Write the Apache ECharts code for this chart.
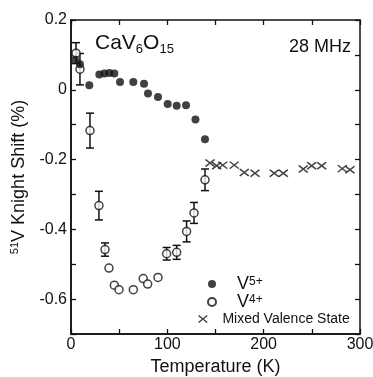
<!DOCTYPE html>
<html>
<head>
<meta charset="utf-8">
<script src="https://cdn.jsdelivr.net/npm/echarts@6/dist/echarts.min.js"></script>
<style>
  html, body { margin: 0; padding: 0; background: #fff; }
  #chart { width: 373px; height: 377px; }
</style>
</head>
<body>
<div id="chart"></div>
<script>
// 51V Knight shift of CaV6O15 at 28 MHz versus temperature

// V5+ site (filled circles)
const tempV5  = [4.2, 9.3, 19.0, 29.4, 34.6, 39.8, 45.0, 50.9, 64.7, 75.8, 79.9, 90.3, 100.4, 109.7, 119.4, 129.2, 139.1];
const shiftV5 = [0.086, 0.073, 0.013, 0.044, 0.047, 0.048, 0.047, 0.022, 0.022, 0.017, -0.011, -0.021, -0.041, -0.046, -0.044, -0.085, -0.142];

// V4+ site (open circles) with error half-widths (0 = no bar)
const tempV4  = [5.2, 9.3, 19.7, 29.0, 35.3, 39.4, 45.0, 49.8, 64.7, 75.0, 79.6, 90.3, 99.3, 109.7, 120.0, 127.7, 139.1];
const shiftV4 = [0.105, 0.059, -0.117, -0.332, -0.458, -0.511, -0.560, -0.573, -0.573, -0.541, -0.557, -0.538, -0.470, -0.466, -0.406, -0.353, -0.258];
const errV4   = [0.030, 0.045, 0.050, 0.041, 0.019, 0, 0, 0, 0, 0, 0, 0, 0.018, 0.020, 0.030, 0.030, 0.031];

// Mixed valence state (crosses)
const tempMix  = [144.3, 151.2, 157.5, 169.5, 179.9, 191.0, 211.0, 220.4, 241.1, 249.8, 260.2, 281.6, 289.6];
const shiftMix = [-0.210, -0.218, -0.216, -0.216, -0.237, -0.239, -0.239, -0.239, -0.227, -0.218, -0.218, -0.226, -0.229];

// Axis labels
const xTickLabels = [0, 100, 200, 300];
const yTickLabels = [0.2, 0, -0.2, -0.4, -0.6];

const FONT = '"Liberation Sans", Arial, Helvetica, sans-serif';
const INK = '#111';
const CROSS = 'path://M0,0L10,8M10,0L0,8';

const zip = (a, b, c) => a.map((v, i) => c ? [v, b[i], c[i]] : [v, b[i]]);

const axisLine = () => ({ show: true, onZero: false, lineStyle: { color: INK, width: 1.5 } });
const axisTick = () => ({ show: true, inside: true, length: 5, lineStyle: { color: INK, width: 1.3 } });

// Unlabelled frame axis carrying only inward ticks
const frameX = pos => ({
  type: 'value', min: 0, max: 300, interval: 50, position: pos,
  axisLine: axisLine(), axisTick: axisTick(),
  splitLine: { show: false }, axisLabel: { show: false }
});
const frameY = pos => ({
  type: 'value', min: -0.7, max: 0.2, interval: 0.1, position: pos,
  axisLine: axisLine(), axisTick: axisTick(),
  splitLine: { show: false }, axisLabel: { show: false }
});

const chart = echarts.init(document.getElementById('chart'), null, { renderer: 'canvas' });

chart.setOption({
  animation: false,
  backgroundColor: '#fff',
  textStyle: { fontFamily: FONT, color: INK },
  grid: { left: 71, right: 13, top: 20, bottom: 43, containLabel: false, outerBoundsMode: 'none' },
  title: [
    {
      text: '{m|CaV}{s|6}{m|O}{s|15}',
      left: 95, top: 30, padding: 0,
      textStyle: {
        fontWeight: 'normal',
        rich: {
          m: { fontFamily: FONT, fontSize: 21, fontWeight: 'normal', lineHeight: 26, color: INK },
          s: { fontFamily: FONT, fontSize: 13, fontWeight: 'normal', lineHeight: 13, verticalAlign: 'bottom', color: INK }
        }
      }
    },
    {
      text: '28 MHz',
      right: 22, top: 38, padding: 0,
      textStyle: { fontFamily: FONT, fontSize: 18, fontWeight: 'normal', color: INK }
    }
  ],
  legend: [
    {
      data: ['V5+', 'V4+'],
      orient: 'vertical',
      left: 207, top: 275,
      itemWidth: 8, itemHeight: 8, itemGap: 0,
      padding: 0,
      selectedMode: false,
      formatter: n => '{v|V}{p|' + n.slice(1) + '}',
      textStyle: {
        rich: {
          v: { fontFamily: FONT, fontSize: 18, lineHeight: 17, color: INK, padding: [0, 0, 0, 16] },
          p: { fontFamily: FONT, fontSize: 12, lineHeight: 12, verticalAlign: 'top', color: INK }
        }
      }
    },
    {
      data: [{ name: 'Mixed Valence State', icon: CROSS,
               itemStyle: { color: 'none', borderColor: INK, borderWidth: 1.5 } }],
      left: 196, top: 312,
      itemWidth: 9, itemHeight: 7,
      padding: 0,
      selectedMode: false,
      textStyle: { fontFamily: FONT, fontSize: 14, color: INK, padding: [0, 0, 0, 10] }
    }
  ],
  xAxis: [
    {
      type: 'value', min: 0, max: 300, interval: 50,
      position: 'bottom',
      name: 'Temperature (K)', nameLocation: 'middle', nameGap: 22,
      nameTextStyle: { fontFamily: FONT, fontSize: 18, color: INK },
      axisLine: axisLine(), axisTick: { show: false },
      splitLine: { show: false },
      axisLabel: {
        margin: 3, fontFamily: FONT, fontSize: 16, color: INK,
        formatter: v => xTickLabels.includes(Math.round(v)) ? String(Math.round(v)) : ''
      }
    },
    frameX('top'),
    frameX('bottom')
  ],
  yAxis: [
    {
      type: 'value', min: -0.7, max: 0.2, interval: 0.1,
      position: 'left',
      name: '{s|51}{n|V Knight Shift (%)}', nameLocation: 'middle', nameGap: 31, nameRotate: 90,
      nameTextStyle: {
        rich: {
          s: { fontFamily: FONT, fontSize: 11, lineHeight: 11, verticalAlign: 'top', color: INK },
          n: { fontFamily: FONT, fontSize: 18, lineHeight: 20, color: INK }
        }
      },
      axisLine: axisLine(), axisTick: { show: false },
      splitLine: { show: false },
      axisLabel: {
        margin: 4, fontFamily: FONT, fontSize: 16, color: INK,
        formatter: v => {
          const r = Math.round(v * 10) / 10;
          return yTickLabels.includes(r) ? String(r) : '';
        }
      }
    },
    frameY('right'),
    frameY('left')
  ],
  series: [
    {
      name: 'V4+ error',
      type: 'custom',
      xAxisIndex: 0, yAxisIndex: 0,
      z: 2,
      data: zip(tempV4, shiftV4, errV4).filter(d => d[2] > 0),
      renderItem: (params, api) => {
        const x = api.value(0), y = api.value(1), e = api.value(2);
        const top = api.coord([x, y + e]);
        const bot = api.coord([x, y - e]);
        const cap = 4;
        const style = { stroke: INK, lineWidth: 1.5 };
        return {
          type: 'group',
          children: [
            { type: 'line', shape: { x1: top[0], y1: top[1], x2: bot[0], y2: bot[1] }, style },
            { type: 'line', shape: { x1: top[0] - cap, y1: top[1], x2: top[0] + cap, y2: top[1] }, style },
            { type: 'line', shape: { x1: bot[0] - cap, y1: bot[1], x2: bot[0] + cap, y2: bot[1] }, style }
          ]
        };
      }
    },
    {
      name: 'V5+',
      type: 'scatter',
      z: 4,
      symbol: 'circle', symbolSize: 8,
      itemStyle: { color: INK, borderColor: INK, borderWidth: 0 },
      data: zip(tempV5, shiftV5)
    },
    {
      name: 'V4+',
      type: 'scatter',
      z: 3,
      symbol: 'circle', symbolSize: 8,
      itemStyle: { color: '#fff', borderColor: INK, borderWidth: 1.5 },
      data: zip(tempV4, shiftV4)
    },
    {
      name: 'Mixed Valence State',
      type: 'scatter',
      z: 4,
      symbol: CROSS, symbolSize: [9, 7],
      itemStyle: { color: 'none', borderColor: INK, borderWidth: 1.5 },
      data: zip(tempMix, shiftMix)
    }
  ]
});
</script>
</body>
</html>
